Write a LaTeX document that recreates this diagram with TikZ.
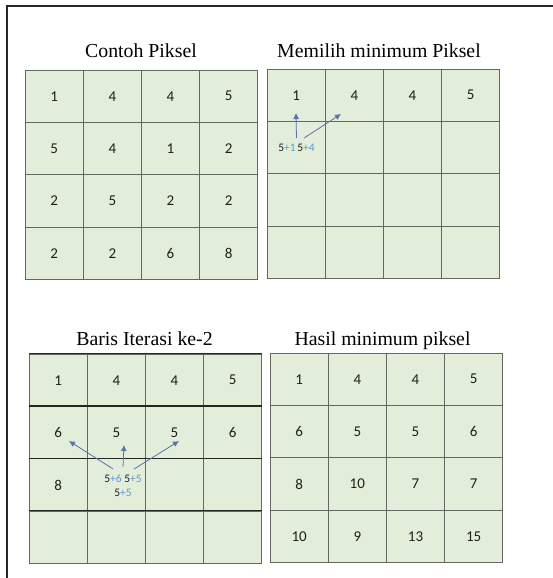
\documentclass[tikz,border=0pt]{standalone}
\usepackage{fontspec}
\setmainfont{Liberation Serif}
\newfontfamily\cellfont{Carlito}
\usetikzlibrary{calc,arrows.meta}
\definecolor{cellgreen}{RGB}{226,238,217}
\definecolor{gridgray}{RGB}{100,104,98}
\definecolor{numgray}{RGB}{30,30,30}
\definecolor{plusblue}{RGB}{91,155,213}
\definecolor{arrblue}{RGB}{88,115,172}
\begin{document}
\begin{tikzpicture}[x=1pt,y=-1pt,>={Latex[length=6pt,width=6pt]},
    cell/.style={draw=gridgray,line width=0.9pt,fill=cellgreen,minimum width=58.2pt,
        minimum height=52.4pt,inner sep=0pt,font=\cellfont\fontsize{15}{17}\selectfont,text=numgray},
    gridtitle/.style={anchor=base,font=\fontsize{19.8}{22}\selectfont},
    sumlabel/.style={inner sep=0pt,font=\cellfont\fontsize{11.5}{13}\selectfont,text=numgray},
    rowline/.style={line width=1.1pt,black!85},
    pick/.style={->,arrblue,line width=0.8pt}]
        \useasboundingbox (0,0) rectangle (553,578);
        % draw the frame
        \draw[line width=1.2pt,black!85] (7,578) -- (7,6) -- (553,6);

        % draw the grids
        \foreach \g/\gx/\gy/\vals in {
            tl/25/70/{1,4,4,5,5,4,1,2,2,5,2,2,2,2,6,8},
            tr/267/69/{1,4,4,5,{},{},{},{},{},{},{},{},{},{},{},{}},
            bl/29/354/{1,4,4,5,6,5,5,6,8,{},{},{},{},{},{},{}},
            br/270/353/{1,4,4,5,6,5,5,6,8,10,7,7,10,9,13,15}}
            \foreach \v [count=\n from 0] in \vals {
                \pgfmathtruncatemacro\r{\n/4}
                \pgfmathtruncatemacro\c{mod(\n,4)}
                \node[cell] (\g-\r-\c) at (\gx+29.1+58.2*\c, \gy+26.2+52.4*\r) {\v};
            }
        % darker row lines of the second iteration
        \foreach \r in {0,...,3}
            \draw[rowline] (bl-\r-0.north west) -- (bl-\r-3.north east);

        % draw the titles
        \node[gridtitle] (ttl-tl) at (141,58) {Contoh Piksel};
        \node[gridtitle] (ttl-tr) at (379,58) {Memilih minimum Piksel};
        \node[gridtitle] (ttl-bl) at (144.5,345) {Baris Iterasi ke-2};
        \node[gridtitle] (ttl-br) at (382.5,345) {Hasil minimum piksel};

        % draw the sums of the first step
        \node[sumlabel] (s11) at (287,148) {5{\color{plusblue}+1}};
        \node[sumlabel] (s14) at (306,148) {5{\color{plusblue}+4}};
        \coordinate (t11) at (296,113);
        \coordinate (t14) at (341,114);
        \draw[pick] ($(s11.north east)!.5!(s14.north west)+(0,-6)$) -- (t11);
        \draw[pick] ($(s14.north)+(-2,-6)$) -- (t14);

        % draw the sums of the second row
        \node[sumlabel] (s26) at (113,479) {5{\color{plusblue}+6}};
        \node[sumlabel] (s25) at (133,479) {5{\color{plusblue}+5}};
        \node[sumlabel] (s55) at (123,493) {5{\color{plusblue}+5}};
        \coordinate (t6) at (69,441);
        \coordinate (t5) at (124,445);
        \coordinate (t5b) at (179,441);
        \draw[pick] ($(s26.north)+(0,-6)$) -- (t6);
        \draw[pick] ($(s26.north east)!.5!(s25.north west)+(0,-8)$) -- (t5);
        \draw[pick] ($(s25.north)+(1,-6)$) -- (t5b);
\end{tikzpicture}
\end{document}
